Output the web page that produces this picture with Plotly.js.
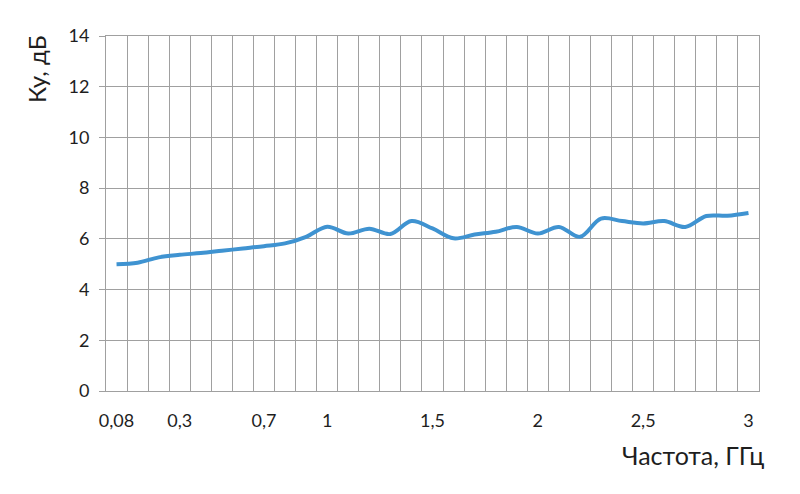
<!DOCTYPE html>
<html>
<head>
<meta charset="utf-8">
<script src="https://cdn.plot.ly/plotly-3.0.1.min.js"></script>
<style>html,body{margin:0;padding:0;background:#fff;}#chart{width:800px;height:494px;}</style>
</head>
<body>
<div id="chart"></div>
<script>
// Frequency categories (GHz), one per grid cell
var categories = ['0,08','0,1','0,2','0,3','0,4','0,5','0,6','0,7','0,8','0,9',
  '1','1,1','1,2','1,3','1,4','1,5','1,6','1,7','1,8','1,9',
  '2','2,1','2,2','2,3','2,4','2,5','2,6','2,7','2,8','2,9','3'];
// Gain Ку, dB
var gainDb = [5.00, 5.06, 5.27, 5.37, 5.44, 5.53, 5.62, 5.71, 5.82, 6.08,
  6.48, 6.21, 6.40, 6.19, 6.70, 6.41, 6.02, 6.17, 6.28, 6.47,
  6.21, 6.47, 6.08, 6.80, 6.70, 6.61, 6.70, 6.47, 6.90, 6.91, 7.02];
// Which categories carry a visible label
var shownLabels = ['0,08','0,3','0,7','1','1,5','2','2,5','3'];
var tickText = categories.map(function(c){ return shownLabels.indexOf(c) >= 0 ? c : ''; });
var yTicks = [0,2,4,6,8,10,12,14];

var gridColor = '#a0a0a0';
var textColor = '#1e1e1e';
var font = 'Lato, "Noto Sans", sans-serif';

var trace = {
  x: categories,
  y: gainDb,
  type: 'scatter',
  mode: 'lines',
  line: {color: '#3f93d1', width: 4, shape: 'spline', smoothing: 1},
  hoverinfo: 'x+y'
};

var layout = {
  width: 800, height: 494,
  margin: {l: 106, r: 41, t: 36, b: 103},
  paper_bgcolor: '#ffffff', plot_bgcolor: '#ffffff',
  showlegend: false,
  font: {family: font, color: textColor, size: 18},
  xaxis: {
    type: 'category',
    categoryorder: 'array', categoryarray: categories,
    tickvals: categories, ticktext: tickText,
    tickson: 'boundaries',
    tickangle: 0,
    range: [-0.5, 30.5],
    showgrid: true, gridcolor: gridColor, gridwidth: 1,
    showline: true, linecolor: gridColor, linewidth: 1, mirror: true,
    ticks: '', ticklabelstandoff: 13,
    tickfont: {family: font, size: 18, color: textColor},
    zeroline: false
  },
  yaxis: {
    range: [0, 14],
    tickvals: yTicks, ticktext: yTicks.map(String),
    showgrid: true, gridcolor: gridColor, gridwidth: 1,
    showline: true, linecolor: gridColor, linewidth: 1, mirror: true,
    ticks: 'outside', ticklen: 6, tickcolor: gridColor,
    ticklabelstandoff: 6,
    tickfont: {family: font, size: 18, color: textColor},
    zeroline: false
  },
  annotations: [
    {text: 'Ку, дБ', xref: 'paper', yref: 'paper', x: 0, y: 1,
     xanchor: 'center', yanchor: 'top', xshift: -70, yshift: 3,
     textangle: -90, showarrow: false,
     font: {family: font, size: 24, color: textColor}},
    {text: 'Частота, ГГц', xref: 'paper', yref: 'paper', x: 1, y: 0,
     xanchor: 'right', yanchor: 'middle', xshift: 7, yshift: -64,
     showarrow: false,
     font: {family: font, size: 25, color: textColor}}
  ]
};

Plotly.newPlot('chart', [trace], layout, {displayModeBar: false, staticPlot: true});
</script>
</body>
</html>
